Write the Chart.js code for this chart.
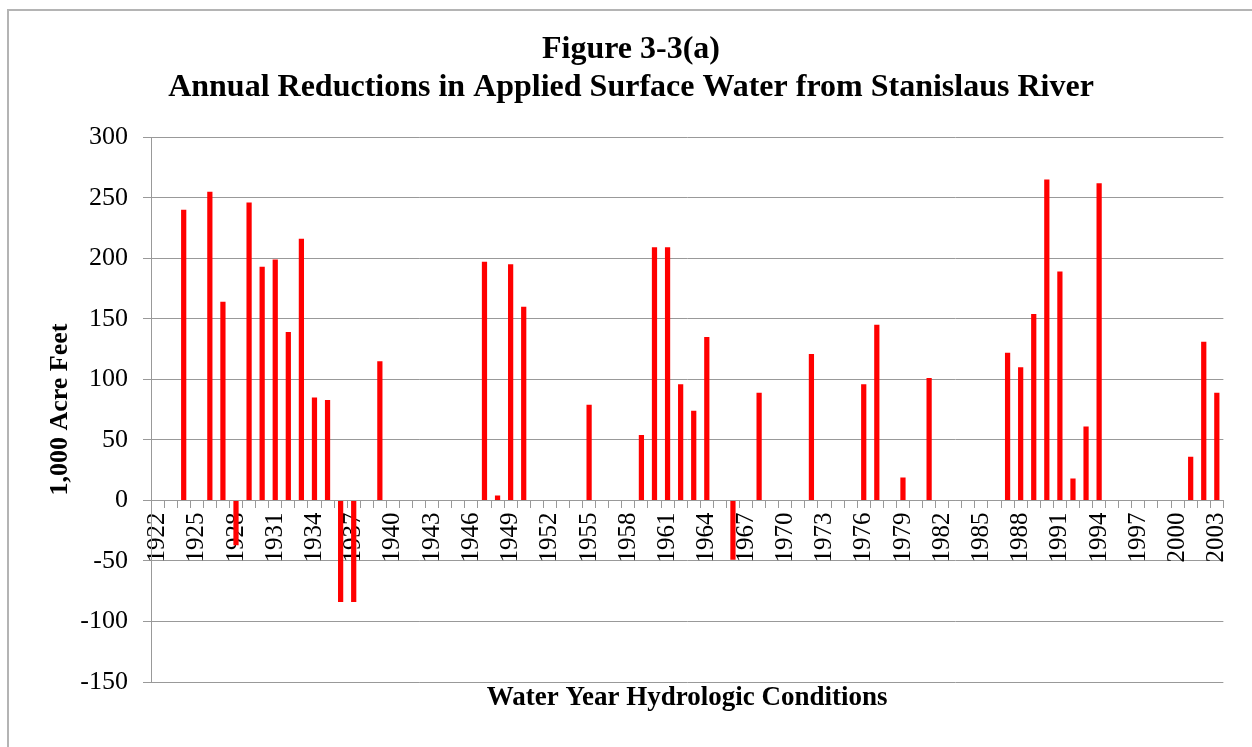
<!DOCTYPE html>
<html>
<head>
<meta charset="utf-8">
<script src="https://cdn.jsdelivr.net/npm/chart.js@4.4.1/dist/chart.umd.min.js"></script>
<style>
  html, body { margin: 0; padding: 0; background: #fff; overflow: hidden; }
  #frame {
    position: absolute; left: 7px; top: 9px; width: 1300px; height: 800px;
    border: 2px solid #b4b4b4; box-sizing: border-box;
  }
  #wrap { position: absolute; left: 0; top: 0; width: 1252px; height: 747px; }
</style>
</head>
<body>
<div id="frame"></div>
<div id="wrap"><canvas id="chart"></canvas></div>
<script>
// Water years 1922 – 2003
const years = [];
for (let y = 1922; y <= 2003; y++) years.push(String(y));

// Reduction in applied surface water (1,000 acre-feet)
const reductionByYear = {
  1924: 240, 1926: 255, 1927: 164, 1928: -37, 1929: 246, 1930: 193,
  1931: 199, 1932: 139, 1933: 216, 1934: 85, 1935: 83, 1936: -84,
  1937: -84, 1939: 115,
  1947: 197, 1948: 4, 1949: 195, 1950: 160, 1955: 79,
  1959: 54, 1960: 209, 1961: 209, 1962: 96, 1963: 74, 1964: 135,
  1966: -49, 1968: 89, 1972: 121, 1976: 96, 1977: 145, 1979: 19, 1981: 101,
  1987: 122, 1988: 110, 1989: 154, 1990: 265, 1991: 189, 1992: 18,
  1993: 61, 1994: 262, 2001: 36, 2002: 131, 2003: 89,
};
const reductions = years.map(y => reductionByYear[y] ?? 0);

const yTicks = [-150, -100, -50, 0, 50, 100, 150, 200, 250, 300];

const C = {
  bar:   '#ff0000',
  grid:  '#999999',
  text:  '#000000',
};
const FONT = "'Liberation Serif', 'Times New Roman', serif";

new Chart(document.getElementById('chart'), {
  type: 'bar',
  data: {
    labels: years,
    datasets: [{
      label: 'Reduction',
      data: reductions,
      backgroundColor: C.bar,
      borderWidth: 0,
      barPercentage: 0.4,
      categoryPercentage: 1.0,
      xAxisID: 'x',
    }],
  },
  options: {
    responsive: true,
    maintainAspectRatio: false,
    animation: false,
    layout: { padding: { left: 36, right: 26, top: 0, bottom: 0 } },
    plugins: {
      legend: { display: false },
      tooltip: { enabled: false },
      title: {
        display: true,
        text: ['Figure 3-3(a)', 'Annual Reductions in Applied Surface Water from Stanislaus River'],
        color: C.text,
        font: { family: FONT, size: 32, weight: 'bold', lineHeight: 1.19 },
        padding: { top: 31, bottom: 30 },
      },
    },
    scales: {
      x: {
        type: 'category',
        position: { y: 0 },
        offset: true,
        grid: {
          offset: true,
          drawOnChartArea: false,
          drawTicks: true,
          tickLength: 7,
          color: C.grid,
        },
        border: { display: true, color: C.grid, width: 1 },
        ticks: {
          autoSkip: false,
          maxRotation: 90,
          minRotation: 90,
          padding: 5,
          color: C.text,
          font: { family: FONT, size: 25 },
          callback(val, i) { return i % 3 === 0 ? this.getLabelForValue(val) : ''; },
        },
      },
      x2: {
        type: 'category',
        position: 'bottom',
        labels: years,
        grid: { display: false },
        border: { display: false },
        ticks: { display: false },
        title: {
          display: true,
          text: 'Water Year Hydrologic Conditions',
          color: C.text,
          font: { family: FONT, size: 27, weight: 'bold' },
          padding: { top: 33, bottom: 33 },
        },
        afterFit(s) { s.height = 65; },
      },
      y: {
        min: -150,
        max: 300,
        afterBuildTicks(s) { s.ticks = yTicks.map(v => ({ value: v })); },
        grid: { color: C.grid, tickLength: 8, lineWidth: 1 },
        border: { display: true, color: C.grid, width: 1 },
        ticks: {
          padding: 15,
          color: C.text,
          font: { family: FONT, size: 26 },
        },
        title: {
          display: true,
          text: '1,000 Acre Feet',
          color: C.text,
          font: { family: FONT, size: 26, weight: 'bold' },
          padding: { top: 9, bottom: 9 },
        },
        afterFit(s) { s.width = 115; },
      },
    },
  },
});
</script>
</body>
</html>
